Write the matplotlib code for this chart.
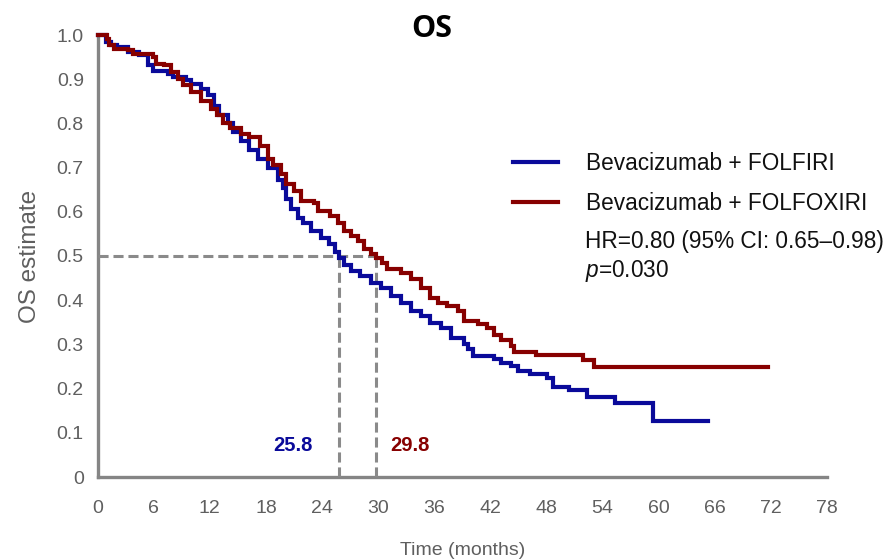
import matplotlib
matplotlib.use("Agg")
import matplotlib.pyplot as plt
from matplotlib.ticker import FixedLocator, FuncFormatter

# ---- data -------------------------------------------------------------
arm_labels = ["Bevacizumab + FOLFIRI", "Bevacizumab + FOLFOXIRI"]
median_os = [25.8, 29.8]
hr_text = "HR=0.80 (95% CI: 0.65\u20130.98)"
p_text = "$p$=0.030"

# Kaplan-Meier steps (months, survival probability after the step)
folfiri_t = [0, 0.9, 1.4, 2.1, 3.2, 4.4, 5.4, 5.9, 7.5, 8.1, 9.4, 10.0, 11.0,
             11.8, 12.4, 13.0, 13.9, 14.5, 15.3, 16.2, 17.1, 18.2, 19.3, 19.8,
             20.1, 20.7, 21.4, 22.0, 22.8, 23.9, 24.7, 25.4, 25.8, 26.4, 27.1,
             28.1, 29.2, 30.3, 31.4, 32.4, 33.5, 34.6, 35.6, 36.7, 37.8, 39.2,
             39.6, 40.2, 42.4, 43.1, 44.2, 45.0, 46.3, 48.1, 48.7, 50.4, 52.4,
             55.4, 59.4, 65.3]
folfiri_s = [1.0, 0.985, 0.978, 0.972, 0.962, 0.955, 0.932, 0.918, 0.912,
             0.905, 0.898, 0.89, 0.878, 0.865, 0.84, 0.82, 0.80, 0.78, 0.76,
             0.74, 0.72, 0.70, 0.673, 0.653, 0.63, 0.606, 0.586, 0.574, 0.556,
             0.540, 0.528, 0.510, 0.495, 0.48, 0.466, 0.455, 0.44, 0.428, 0.41,
             0.394, 0.376, 0.365, 0.349, 0.336, 0.315, 0.30, 0.29, 0.274,
             0.268, 0.259, 0.252, 0.239, 0.234, 0.225, 0.203, 0.196, 0.181,
             0.167, 0.126, 0.126]

folfoxiri_t = [0, 1.0, 1.2, 1.7, 3.2, 3.8, 5.9, 6.2, 7.1, 7.8, 8.6, 9.1,
               10.0, 11.0, 12.1, 12.8, 13.4, 14.2, 15.3, 16.2, 17.4, 18.2,
               18.8, 19.6, 20.1, 21.0, 21.7, 23.1, 23.6, 24.9, 25.7, 26.3,
               27.1, 27.9, 28.5, 29.2, 29.8, 30.4, 31.0, 32.4, 33.5, 34.6,
               35.6, 36.4, 37.4, 38.5, 39.2, 40.7, 41.7, 42.4, 43.1, 44.2,
               44.5, 46.9, 51.9, 53.1, 71.7]
folfoxiri_s = [1.0, 0.99, 0.977, 0.968, 0.966, 0.957, 0.95, 0.935, 0.932,
               0.917, 0.90, 0.887, 0.872, 0.85, 0.833, 0.82, 0.80, 0.79,
               0.775, 0.77, 0.748, 0.72, 0.707, 0.685, 0.664, 0.646, 0.624,
               0.619, 0.601, 0.59, 0.574, 0.556, 0.545, 0.534, 0.516, 0.505,
               0.495, 0.485, 0.47, 0.462, 0.448, 0.428, 0.405, 0.394, 0.387,
               0.376, 0.354, 0.347, 0.338, 0.322, 0.309, 0.297, 0.282, 0.275,
               0.264, 0.248, 0.248]

x_ticks = list(range(0, 79, 6))
y_ticks = [0, 0.1, 0.2, 0.3, 0.4, 0.5, 0.6, 0.7, 0.8, 0.9, 1.0]

# ---- style ------------------------------------------------------------
BLUE = "#0a0a9a"
RED = "#870000"
AXIS_GREY = "#858585"
TICK_GREY = "#5f5f5f"
DASH_GREY = "#8a8a8a"
FONT = "Liberation Sans"

plt.rcParams["font.family"] = FONT
plt.rcParams["mathtext.fontset"] = "custom"
plt.rcParams["mathtext.it"] = FONT + ":italic"
plt.rcParams["mathtext.rm"] = FONT

W, H = 893, 559
fig = plt.figure(figsize=(W / 100, H / 100), dpi=100)
ax = fig.add_axes([97.7 / W, 1 - 477 / H, 729 / W, 442 / H])

ax.set_xlim(0, 78)
ax.set_ylim(0, 1.0)

lw = 3.0
h_blue, = ax.plot(folfiri_t, folfiri_s, drawstyle="steps-post", color=BLUE,
                  lw=lw, clip_on=False, solid_joinstyle="miter", zorder=4)
h_red, = ax.plot(folfoxiri_t, folfoxiri_s, drawstyle="steps-post", color=RED,
                 lw=lw, clip_on=False, solid_joinstyle="miter", zorder=4)

# median reference lines
dash = dict(color=DASH_GREY, lw=2.2, linestyle=(0, (3.3, 1.6)), zorder=3)
ax.plot([0, median_os[1]], [0.5, 0.5], **dash)
for m in median_os:
    ax.plot([m, m], [0, 0.5], **dash)

ax.text(median_os[0] - 4.9, 0.072, f"{median_os[0]}", color=BLUE,
        fontsize=14.5, fontweight="bold", ha="center", va="center")
ax.text(median_os[1] + 3.6, 0.072, f"{median_os[1]}", color=RED,
        fontsize=14.5, fontweight="bold", ha="center", va="center")

# axes
for side in ("top", "right"):
    ax.spines[side].set_visible(False)
for side in ("left", "bottom"):
    ax.spines[side].set_color(AXIS_GREY)
    ax.spines[side].set_linewidth(2.4)
    ax.spines[side].set_capstyle("projecting")

ax.xaxis.set_major_locator(FixedLocator(x_ticks))
ax.yaxis.set_major_locator(FixedLocator(y_ticks))
ax.yaxis.set_major_formatter(FuncFormatter(lambda v, _: "0" if v == 0 else f"{v:.1f}"))
ax.tick_params(axis="both", length=0, colors=TICK_GREY, labelsize=14)
ax.tick_params(axis="y", pad=10)
ax.tick_params(axis="x", pad=16.5)

ax.set_xlabel("Time (months)", fontsize=14, color=TICK_GREY, va="baseline")
ax.xaxis.set_label_coords(0.5, -(555 - 477) / 442)
ax.set_ylabel("OS estimate", fontsize=17.5, color=TICK_GREY, va="center")
ax.yaxis.set_label_coords((30 - 97.7) / 729, 0.5)

# legend and statistics
leg = ax.legend([h_blue, h_red], arm_labels, loc="upper left",
                bbox_to_anchor=((513 - 97.7) / 729, (477 - 152) / 442),
                frameon=False, borderpad=0, borderaxespad=0,
                prop={"size": 16.3},
                handlelength=1.98, handletextpad=1.24, labelspacing=0.73)
for t in leg.get_texts():
    t.set_color("#111111")

fig.text(585 / W, 1 - 248.3 / H, hr_text, fontsize=16.3,
         color="#111111", va="baseline", ha="left")
fig.text(585 / W, 1 - 276.7 / H, p_text, fontsize=16.3,
         color="#111111", va="baseline", ha="left")

fig.text(432 / W, 1 - 37 / H, "OS", family="Open Sans", fontweight="bold",
         fontsize=22, color="black", ha="center", va="baseline")

fig.savefig("out.png", dpi=100)
